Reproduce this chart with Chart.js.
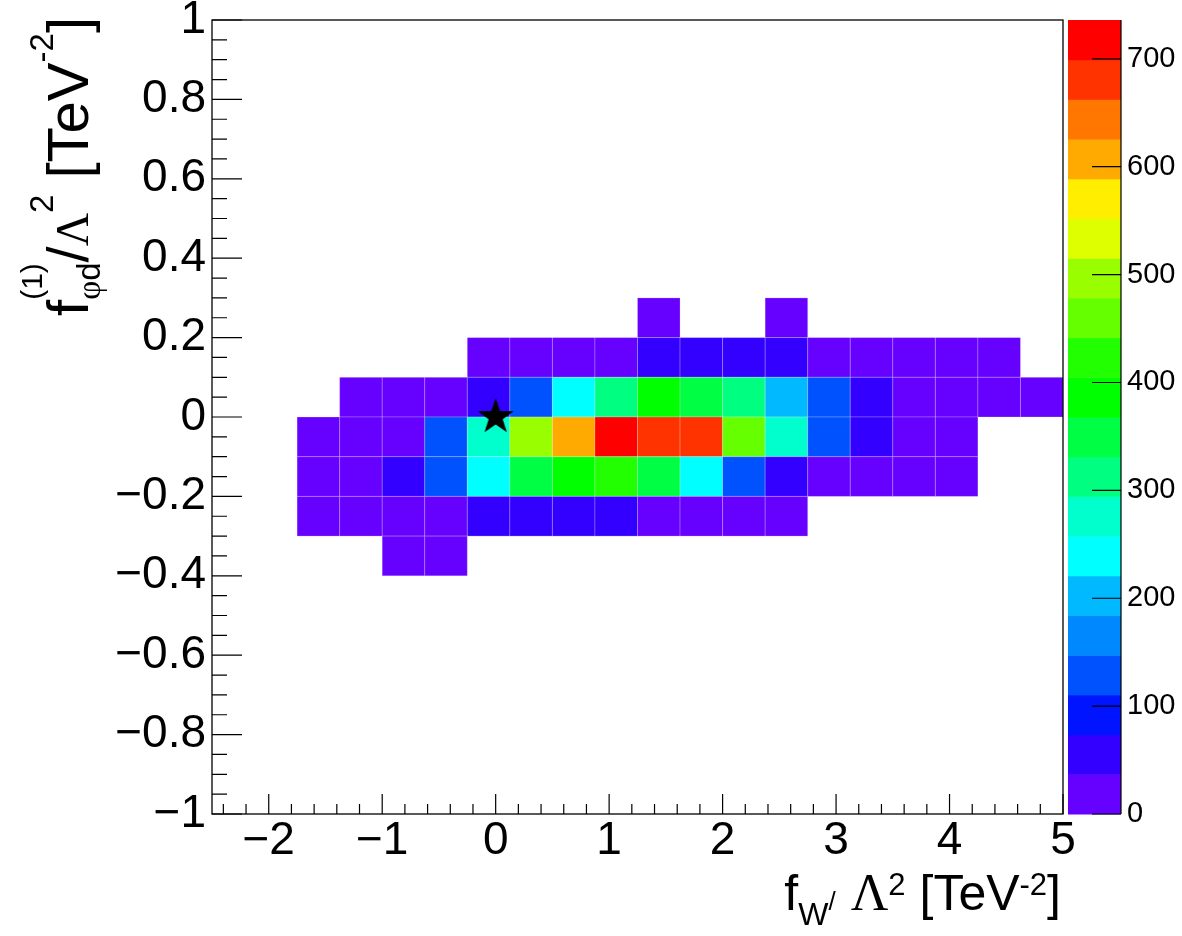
<!DOCTYPE html>
<html>
<head>
<meta charset="utf-8">
<script src="https://cdn.jsdelivr.net/npm/chart.js@4.4.1/dist/chart.umd.min.js"></script>
<style>
  html, body { margin: 0; padding: 0; background: #fff; }
  #wrap { width: 1182px; height: 936px; }
</style>
</head>
<body>
<div id="wrap"><canvas id="chart" width="1182" height="936"></canvas></div>
<script>
// bin edges along f_W (20 bins, -2.5 .. 5)
const xEdges = [-2.5, -2.125, -1.75, -1.375, -1, -0.625, -0.25, 0.125, 0.5, 0.875,
                1.25, 1.625, 2, 2.375, 2.75, 3.125, 3.5, 3.875, 4.25, 4.625, 5];
const xTicks = [-2, -1, 0, 1, 2, 3, 4, 5];
const yTicks = [-1, -0.8, -0.6, -0.4, -0.2, 0, 0.2, 0.4, 0.6, 0.8, 1];
const zTicks = [0, 100, 200, 300, 400, 500, 600, 700];
const zMax = 736;

// lower edge of each filled row of f_phid (bin width 0.1)
const rowLow = [0.2, 0.1, 0.0, -0.1, -0.2, -0.3, -0.4];
const rowWidth = 0.1;

// bin contents per row, one value per f_W bin (0 = empty)
const rowP02 = [0, 0, 0, 0, 0, 0, 0, 0, 0, 0, 12, 0, 0, 9, 0, 0, 0, 0, 0, 0];
const rowP01 = [0, 0, 0, 0, 0, 0, 18, 24, 30, 33, 52, 58, 62, 48, 28, 20, 14, 10, 6, 0];
const rowP00 = [0, 0, 0, 8, 15, 30, 60, 135, 245, 318, 392, 352, 305, 205, 125, 45, 26, 18, 12, 5];
const rowM01 = [0, 0, 6, 14, 28, 138, 280, 500, 608, 736, 690, 670, 455, 272, 122, 50, 25, 11, 0, 0];
const rowM02 = [0, 0, 10, 22, 48, 118, 238, 345, 385, 425, 340, 235, 130, 55, 30, 20, 12, 6, 0, 0];
const rowM03 = [0, 0, 7, 12, 20, 32, 45, 58, 56, 42, 33, 25, 16, 8, 0, 0, 0, 0, 0, 0];
const rowM04 = [0, 0, 0, 0, 5, 7, 0, 0, 0, 0, 0, 0, 0, 0, 0, 0, 0, 0, 0, 0];
const rows = [rowP02, rowP01, rowP00, rowM01, rowM02, rowM03, rowM04];

// SM point marker
const markerX = [0];
const markerY = [0];

// 20 contour colours, low to high
const palette = ['#6600ff', '#3300ff', '#0014ff', '#0052ff', '#0088ff', '#00b9ff', '#00ffff',
                 '#00ffcc', '#00ff80', '#00ff44', '#00ff00', '#22ff00', '#66ff00', '#99ff00',
                 '#ddff00', '#ffee00', '#ffaa00', '#ff7700', '#ff3300', '#ff0000'];

const SANS = '"Liberation Sans", Arial, Helvetica, sans-serif';
const SERIF = '"Liberation Serif", "Times New Roman", serif';

function colorFor(v) {
  const k = Math.min(palette.length - 1, Math.floor(v / zMax * palette.length));
  return palette[k];
}

function fmt(v) {
  if (Math.abs(v) < 1e-9) return '0';
  let s = Number.isInteger(v) ? String(Math.abs(v)) : Math.abs(v).toFixed(1);
  return (v < 0 ? '\u2212' : '') + s;
}

function makeStar(r) {
  const c = document.createElement('canvas');
  const s = Math.ceil(r * 2 + 2);
  c.width = s; c.height = s;
  const g = c.getContext('2d');
  g.beginPath();
  for (let k = 0; k < 10; k++) {
    const rad = k % 2 === 0 ? r : r * 0.39;
    const a = -Math.PI / 2 + k * Math.PI / 5;
    g.lineTo(s / 2 + rad * Math.cos(a), s / 2 + rad * Math.sin(a));
  }
  g.closePath();
  g.fillStyle = '#000';
  g.fill();
  return c;
}

// draws a run of text pieces along one baseline; items may be stacked (sub + sup)
function segWidth(ctx, seg) {
  if (seg.stack) return Math.max(...seg.stack.map(p => segWidth(ctx, p)));
  if (seg.parts) return seg.parts.reduce((a, p) => a + segWidth(ctx, p), 0);
  ctx.font = seg.size + 'px ' + (seg.family || SANS);
  return ctx.measureText(seg.t).width + (seg.gap || 0);
}
function drawSeg(ctx, seg, x, dy) {
  if (seg.stack) { seg.stack.forEach(p => drawSeg(ctx, p, x, dy)); return; }
  if (seg.parts) {
    let px = x;
    seg.parts.forEach(p => { drawSeg(ctx, p, px, dy + (seg.dy || 0)); px += segWidth(ctx, p); });
    return;
  }
  ctx.font = seg.size + 'px ' + (seg.family || SANS);
  ctx.fillText(seg.t, x, dy + (seg.dy || 0));
}
function drawRun(ctx, segs, endX) {
  const total = segs.reduce((a, s) => a + segWidth(ctx, s), 0);
  let x = endX - total;
  segs.forEach(s => { drawSeg(ctx, s, x, 0); x += segWidth(ctx, s); });
}

const xTitle = [
  { t: 'f', size: 50 },
  { t: 'W', size: 32, dy: 15 },
  { t: '/', size: 26, gap: 15 },
  { t: '\u039B', size: 52, family: SERIF },
  { t: '2', size: 31, dy: -15 },
  { t: ' [TeV', size: 50 },
  { t: '-2', size: 31, dy: -15 },
  { t: ']', size: 50 }
];
const yTitle = [
  { t: 'f', size: 58 },
  { stack: [
      { t: '(1)', size: 30, dy: -46 },
      { parts: [{ t: '\u03C6', size: 33, family: SERIF }, { t: 'd', size: 33 }], dy: 12 }
  ] },
  { t: '/', size: 58 },
  { t: '\u039B', size: 46, family: SERIF },
  { t: '2', size: 33, dy: -35 },
  { t: ' [TeV', size: 58 },
  { t: '-2', size: 33, dy: -35 },
  { t: ']', size: 58 }
];

function noPad(s) {
  s.paddingTop = 0; s.paddingBottom = 0; s.paddingLeft = 0; s.paddingRight = 0;
}

const rootStyle = {
  id: 'rootStyle',
  beforeDatasetsDraw(chart) {
    const { ctx, chartArea: a, scales: { x, y } } = chart;
    ctx.save();
    ctx.beginPath();
    ctx.rect(a.left, a.top, a.right - a.left, a.bottom - a.top);
    ctx.clip();
    rows.forEach((row, r) => {
      const top = y.getPixelForValue(rowLow[r] + rowWidth);
      const bot = y.getPixelForValue(rowLow[r]);
      row.forEach((v, i) => {
        if (v <= 0) return;
        const l = x.getPixelForValue(xEdges[i]);
        const rr = x.getPixelForValue(xEdges[i + 1]);
        ctx.fillStyle = colorFor(v);
        ctx.fillRect(l, top, rr - l, bot - top);
        ctx.strokeStyle = 'rgba(255,255,255,0.22)';
        ctx.lineWidth = 1;
        ctx.strokeRect(l, top, rr - l, bot - top);
      });
    });
    ctx.restore();
  },
  afterDraw(chart) {
    const { ctx, chartArea: a, scales: { x, y, z } } = chart;
    ctx.save();
    ctx.strokeStyle = '#000';
    ctx.lineWidth = 1.3;
    ctx.strokeRect(a.left, a.top, a.right - a.left, a.bottom - a.top);

    // y ticks: major every 0.2, minor every 0.05, pointing inwards
    ctx.lineWidth = 1.2;
    ctx.beginPath();
    for (let k = -20; k <= 20; k++) {
      const v = k * 0.05;
      const py = y.getPixelForValue(v);
      const len = k % 4 === 0 ? 30 : 15;
      ctx.moveTo(a.left, py);
      ctx.lineTo(a.left + len, py);
    }
    // x ticks: major every 1, minor every 0.2
    for (let k = -12; k <= 25; k++) {
      const v = k * 0.2;
      if (v < -2.5) continue;
      const px = x.getPixelForValue(v);
      const len = k % 5 === 0 ? 20 : 10;
      ctx.moveTo(px, a.bottom);
      ctx.lineTo(px, a.bottom - len);
    }
    ctx.stroke();

    // colour bar
    const barL = z.left + 5, barR = z.left + 58;
    for (let k = 0; k < palette.length; k++) {
      const y1 = z.getPixelForValue(k * zMax / palette.length);
      const y2 = z.getPixelForValue((k + 1) * zMax / palette.length);
      ctx.fillStyle = palette[k];
      ctx.fillRect(barL, y2, barR - barL, y1 - y2 + 0.5);
    }
    ctx.beginPath();
    ctx.moveTo(barR, z.top);
    ctx.lineTo(barR, z.bottom);
    zTicks.forEach(v => {
      const py = z.getPixelForValue(v);
      ctx.moveTo(barR - 29, py);
      ctx.lineTo(barR, py);
    });
    ctx.stroke();

    // axis titles
    ctx.fillStyle = '#000';
    ctx.textBaseline = 'alphabetic';
    ctx.textAlign = 'left';
    ctx.save();
    ctx.translate(0, 910);
    drawRun(ctx, xTitle, 1061);
    ctx.restore();
    ctx.save();
    ctx.translate(88, 0);
    ctx.rotate(-Math.PI / 2);
    drawRun(ctx, yTitle, -17);
    ctx.restore();
    ctx.restore();
  }
};

const star = makeStar(19);

new Chart(document.getElementById('chart'), {
  type: 'scatter',
  data: {
    datasets: [{
      data: markerX.map((v, i) => ({ x: v, y: markerY[i] })),
      pointStyle: star,
      pointRadius: 19,
      backgroundColor: '#000',
      borderColor: '#000'
    }]
  },
  options: {
    responsive: false,
    devicePixelRatio: 1,
    animation: false,
    layout: { padding: { top: 18, left: 0, right: 0, bottom: 0 } },
    plugins: { legend: { display: false }, tooltip: { enabled: false } },
    scales: {
      x: {
        type: 'linear', min: -2.5, max: 5,
        afterBuildTicks: s => { s.ticks = xTicks.map(v => ({ value: v })); },
        afterFit: s => { s.height = 122; noPad(s); },
        grid: { display: false, drawTicks: false },
        border: { display: false },
        ticks: { callback: v => fmt(v), color: '#000', padding: 0, maxRotation: 0, autoSkip: false,
                 font: { family: SANS, size: 46 } }
      },
      y: {
        type: 'linear', min: -1, max: 1,
        afterBuildTicks: s => { s.ticks = yTicks.map(v => ({ value: v })); },
        afterFit: s => { s.width = 212; noPad(s); },
        grid: { display: false, drawTicks: false },
        border: { display: false },
        ticks: { callback: v => fmt(v), color: '#000', padding: 6, autoSkip: false,
                 font: { family: SANS, size: 46 } }
      },
      z: {
        type: 'linear', position: 'right', min: 0, max: zMax,
        afterBuildTicks: s => { s.ticks = zTicks.map(v => ({ value: v })); },
        afterFit: s => { s.width = 119; noPad(s); },
        grid: { display: false, drawTicks: false },
        border: { display: false },
        ticks: { color: '#000', padding: 64, autoSkip: false, font: { family: SANS, size: 29 } }
      }
    }
  },
  plugins: [rootStyle]
});
</script>
</body>
</html>
